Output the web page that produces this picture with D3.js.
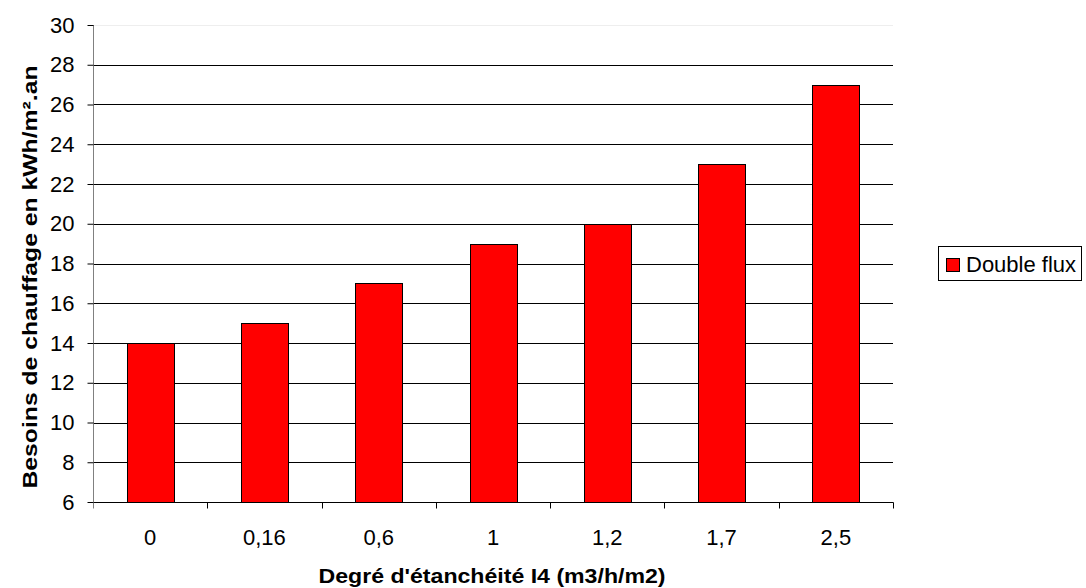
<!DOCTYPE html>
<html><head><meta charset="utf-8">
<script src="https://cdn.jsdelivr.net/npm/d3@7"></script>
<style>
html,body{margin:0;padding:0;background:#fff;}
text{font-family:"Liberation Sans",Arial,sans-serif;fill:#000;}
</style></head>
<body>
<svg id="c" width="1086" height="588"></svg>
<script>
const categories = ["0","0,16","0,6","1","1,2","1,7","2,5"];
const values = [14,15,17,19,20,23,27];
const yTicks = [6,8,10,12,14,16,18,20,22,24,26,28,30];
const seriesName = "Double flux";
const xTitle = "Degré d'étanchéité I4 (m3/h/m2)";
const yTitle = "Besoins de chauffage en kWh/m².an";

const svg = d3.select("#c");
const L = 93, R = 893, T = 25, B = 502;
const fs = 22;

const x = d3.scaleBand().domain(categories).range([L,R]).paddingInner(0.59).paddingOuter(0.295);
const xb = d3.scaleBand().domain(categories).range([L,R]);
const y = d3.scaleLinear().domain([6,30]).range([B,T]);

// gridlines
svg.append("g").selectAll("line").data(yTicks.filter(d=>d>6)).join("line")
  .attr("x1",L).attr("x2",R)
  .attr("y1",d=>Math.round(y(d))+0.5).attr("y2",d=>Math.round(y(d))+0.5)
  .attr("stroke",d=>d===30?"#eeeeee":"#000").attr("stroke-width",1);

// bars
svg.append("g").selectAll("rect").data(values).join("rect")
  .attr("x",(d,i)=>Math.round(x(categories[i]))+0.5)
  .attr("y",d=>Math.round(y(d))+0.5)
  .attr("width",Math.round(x.bandwidth()))
  .attr("height",d=>Math.round(B-y(d)))
  .attr("fill","#ff0000").attr("stroke","#000").attr("stroke-width",1);

// y axis
const ya = svg.append("g").attr("transform",`translate(${L+0.5},0)`)
  .call(d3.axisLeft(y).tickValues(yTicks).tickSize(6).tickPadding(13).tickFormat(d3.format("d")));
ya.select(".domain").attr("stroke","#808080").attr("d",`M0,${T}V${B+6}`);
ya.selectAll(".tick line").attr("stroke","#000");
ya.selectAll("text").attr("font-size",fs).style("font-family","'Liberation Sans',Arial,sans-serif");

// x axis
const xa = svg.append("g").attr("transform",`translate(0,${B+0.5})`);
xa.append("line").attr("x1",L).attr("x2",R+0.5).attr("y1",0).attr("y2",0).attr("stroke","#000");
xa.selectAll(".tk").data(categories.concat(["end"])).join("line")
  .attr("x1",(d,i)=>Math.round(L+i*xb.step())+0.5).attr("x2",(d,i)=>Math.round(L+i*xb.step())+0.5)
  .attr("y1",0).attr("y2",6).attr("stroke",(d,i)=>i===0?"#808080":"#000");
xa.selectAll("text").data(categories).join("text")
  .attr("x",d=>xb(d)+xb.bandwidth()/2).attr("y",42)
  .attr("text-anchor","middle").attr("font-size",fs).text(d=>d);

// axis titles
svg.append("text").attr("x",(L+R)/2 - 1).attr("y",583).attr("text-anchor","middle")
  .attr("font-size",21).attr("font-weight","bold")
  .attr("textLength",347).attr("lengthAdjust","spacingAndGlyphs").text(xTitle);
svg.append("text").attr("transform",`translate(37,277) rotate(-90)`)
  .attr("text-anchor","middle").attr("font-size",21).attr("font-weight","bold")
  .attr("textLength",423).attr("lengthAdjust","spacingAndGlyphs").text(yTitle);

// legend
const lg = svg.append("g");
lg.append("rect").attr("x",938.5).attr("y",246.5).attr("width",143).attr("height",34)
  .attr("fill","#fff").attr("stroke","#000");
lg.append("rect").attr("x",946.5).attr("y",258.5).attr("width",13).attr("height",13)
  .attr("fill","#ff0000").attr("stroke","#000");
lg.append("text").attr("x",966).attr("y",272).attr("font-size",fs).text(seriesName);
</script>
</body></html>
